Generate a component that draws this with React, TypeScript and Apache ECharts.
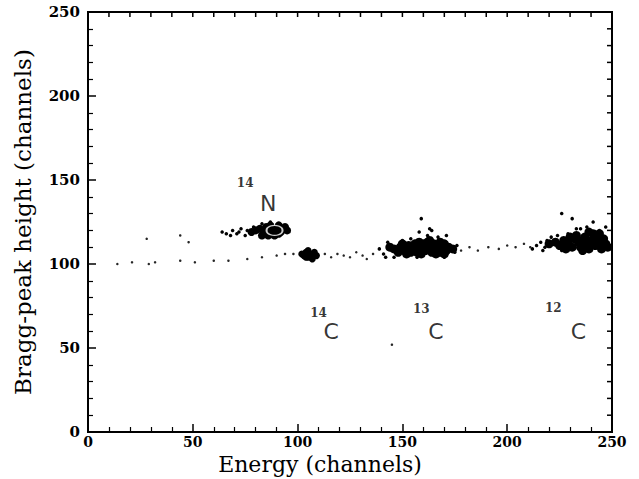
import React, { useEffect, useRef } from "react";
import * as echarts from "echarts";

// Tick values
const xTicks = [0, 50, 100, 150, 200, 250];
const yTicks = [0, 50, 100, 150, 200, 250];
// Frame ticks on the top and right edges (every 10 channels)
const frameTicks = [
  0, 10, 20, 30, 40, 50, 60, 70, 80, 90, 100, 110, 120, 130, 140, 150, 160, 170, 180, 190,
  200, 210, 220, 230, 240, 250,
];

// Sparse band of single events (Energy, Bragg-peak height)
const sparseEvents: [number, number][] = [
  [14, 100], [21, 101], [29, 100], [32, 101], [44, 102], [51, 101], [60, 102], [67, 102],
  [76, 103], [83, 104], [90, 105], [94, 106], [98, 106], [113, 106], [116, 104], [119, 106],
  [122, 105], [125, 104], [128, 107], [131, 105], [133, 103], [136, 106], [178, 108],
  [182, 110], [186, 108], [191, 110], [196, 109], [200, 111], [204, 110], [208, 112],
  [211, 110], [28, 115], [44, 117], [48, 113], [145, 52],
];

// 14N cluster
const n14Core: [number, number][] = [
  [78, 119], [80, 120], [82, 121], [84, 119], [85, 122], [87, 123], [88, 118], [90, 121],
  [91, 123], [92, 119], [93, 121], [94, 122], [89, 117], [86, 117], [83, 117], [95, 120],
  [88, 120], [91, 118], [86, 120],
];
const n14Halo: [number, number][] = [
  [64, 119], [66, 118], [69, 120], [71, 118], [73, 121], [75, 117], [76, 120], [79, 122],
  [83, 124], [87, 125], [68, 117], [72, 119],
];
const n14Ring: [number, number][] = [[89, 120]];

// 14C cluster
const c14Core: [number, number][] = [
  [102, 106], [103, 105], [104, 107], [105, 104], [106, 106], [107, 105], [108, 107],
  [109, 105], [104, 104], [107, 103], [105, 108],
];

// 13C cluster
const c13Core: [number, number][] = [
  [146, 109], [149, 110], [151, 108], [153, 111], [155, 109], [157, 107], [158, 110],
  [160, 112], [161, 108], [163, 110], [164, 107], [165, 112], [166, 109], [167, 111],
  [168, 107], [169, 110], [170, 112], [171, 108], [172, 110], [162, 113], [159, 106],
  [156, 112], [152, 106], [148, 107], [144, 110], [174, 109], [166, 106], [160, 109],
  [163, 114], [168, 113], [158, 113], [154, 107], [150, 112], [170, 106],
];
const c13Halo: [number, number][] = [
  [141, 106], [143, 113], [150, 114], [154, 115], [158, 119], [159, 127], [163, 121],
  [164, 120], [167, 116], [171, 117], [157, 104], [170, 104], [175, 107], [142, 104],
  [139, 109], [146, 104], [162, 117], [176, 111],
];

// 12C cluster
const c12Core: [number, number][] = [
  [220, 112], [223, 113], [225, 111], [227, 114], [229, 112], [231, 110], [232, 115],
  [234, 113], [235, 110], [237, 116], [238, 112], [239, 109], [240, 114], [242, 111],
  [243, 116], [244, 113], [245, 109], [246, 115], [247, 112], [236, 108], [241, 118],
  [233, 117], [228, 109], [248, 110], [230, 116], [239, 119], [244, 118], [236, 114],
];
const c12Halo: [number, number][] = [
  [214, 111], [216, 113], [218, 110], [219, 114], [221, 116], [224, 117], [226, 130],
  [231, 127], [235, 121], [241, 125], [244, 120], [247, 122], [226, 108], [217, 108],
  [238, 122], [233, 121], [229, 118], [212, 109],
];

// Isotope labels: mass number and element, in data coordinates
const massLabels: { text: string; pos: [number, number] }[] = [
  { text: "14", pos: [75, 148] },
  { text: "14", pos: [110, 71] },
  { text: "13", pos: [159, 73] },
  { text: "12", pos: [222, 74] },
];
const elementLabels: { text: string; pos: [number, number] }[] = [
  { text: "N", pos: [86, 136] },
  { text: "C", pos: [116, 60] },
  { text: "C", pos: [166, 60] },
  { text: "C", pos: [234, 60] },
];

const SERIF = "'DejaVu Serif', 'Liberation Serif', serif";
const AXIS_MAX = 250;

export default function App() {
  const ref = useRef<HTMLDivElement>(null);
  useEffect(() => {
    if (!ref.current) return;
    const chart = echarts.init(ref.current, undefined, { renderer: "svg" });
    const axisCommon = {
      type: "value" as const,
      show: true,
      min: 0,
      max: AXIS_MAX,
      interval: 50,
      axisLine: { show: true, onZero: false, lineStyle: { color: "#000", width: 2 } },
      axisTick: { show: true, inside: true, length: 8, lineStyle: { color: "#000", width: 1.5 } },
      minorTick: { show: true, splitNumber: 5, length: 5, lineStyle: { color: "#000", width: 1.2 } },
      splitLine: { show: false },
    };
    const dotSeries = (name: string, data: [number, number][], size: number, opacity = 1) => ({
      name,
      type: "scatter" as const,
      data,
      symbol: "circle",
      symbolSize: size,
      itemStyle: { color: "#000", opacity },
      silent: true,
    });
    chart.setOption({
      animation: false,
      backgroundColor: "#fff",
      grid: {
        left: 88, right: 27, top: 12, bottom: 47, containLabel: false, outerBoundsMode: "none",
        show: true, borderColor: "#000", borderWidth: 2, backgroundColor: "transparent",
      },
      xAxis: {
        ...axisCommon,
        position: "bottom",
        name: "Energy (channels)",
        nameLocation: "middle",
        nameGap: 20,
        nameTextStyle: { fontFamily: SERIF, fontSize: 22, color: "#000", padding: [0, 60, 0, 0] },
        axisLabel: {
          formatter: (v: number) => (xTicks.includes(v) ? String(v) : ""),
          fontFamily: SERIF,
          fontSize: 14,
          fontWeight: "bold",
          color: "#000",
          margin: 3,
        },
      },
      yAxis: {
        ...axisCommon,
        position: "left",
        name: "Bragg-peak height (channels)",
        nameLocation: "middle",
        nameGap: 54,
        nameTextStyle: { fontFamily: SERIF, fontSize: 23, color: "#000" },
        axisLabel: {
          formatter: (v: number) => (yTicks.includes(v) ? String(v) : ""),
          fontFamily: SERIF,
          fontSize: 15,
          fontWeight: "bold",
          color: "#000",
          margin: 8,
        },
      },
      series: [
        dotSeries("sparse", sparseEvents, 2.5, 0.85),
        dotSeries("n14halo", n14Halo, 3.5),
        dotSeries("n14core", n14Core, 8),
        {
          name: "n14ring",
          type: "scatter",
          data: n14Ring,
          symbol: "circle",
          symbolSize: [16, 10],
          itemStyle: { color: "transparent", borderColor: "#fff", borderWidth: 1.6 },
          silent: true,
        },
        dotSeries("c14core", c14Core, 7),
        dotSeries("c13halo", c13Halo, 3.5),
        dotSeries("c13core", c13Core, 9),
        dotSeries("c12halo", c12Halo, 3.5),
        dotSeries("c12core", c12Core, 9),
        {
          name: "mass",
          type: "scatter",
          data: massLabels.map((d) => ({ value: d.pos, name: d.text })),
          symbolSize: 0,
          silent: true,
          label: {
            show: true,
            position: "inside",
            formatter: (p: any) => p.name,
            fontFamily: SERIF,
            fontSize: 12,
            fontWeight: "bold",
            color: "#000",
          },
        },
        {
          name: "element",
          type: "scatter",
          data: elementLabels.map((d) => ({ value: d.pos, name: d.text })),
          symbolSize: 0,
          silent: true,
          label: {
            show: true,
            position: "inside",
            formatter: (p: any) => p.name,
            fontFamily: "'DejaVu Sans', sans-serif",
            fontSize: 22,
            color: "#000",
          },
        },
      ],
    });

    // Top and right frame ticks, placed through the chart's own scales
    const tickStyle = { stroke: "#000", lineWidth: 1.5 };
    const graphics: any[] = [];
    frameTicks.forEach((v) => {
      const t = chart.convertToPixel({ gridIndex: 0 }, [v, AXIS_MAX]) as number[] | undefined;
      const r = chart.convertToPixel({ gridIndex: 0 }, [AXIS_MAX, v]) as number[] | undefined;
      if (t && isFinite(t[0]) && isFinite(t[1])) {
        graphics.push({
          type: "line",
          silent: true,
          z: 100,
          shape: { x1: t[0], y1: t[1], x2: t[0], y2: t[1] + 5 },
          style: tickStyle,
        });
      }
      if (r && isFinite(r[0]) && isFinite(r[1])) {
        graphics.push({
          type: "line",
          silent: true,
          z: 100,
          shape: { x1: r[0], y1: r[1], x2: r[0] - 5, y2: r[1] },
          style: tickStyle,
        });
      }
    });
    chart.setOption({ graphic: graphics });

    return () => chart.dispose();
  }, []);
  return (
    <div
      ref={ref}
      style={{ position: "absolute", left: 0, top: 0, width: 639, height: 479 }}
    />
  );
}
